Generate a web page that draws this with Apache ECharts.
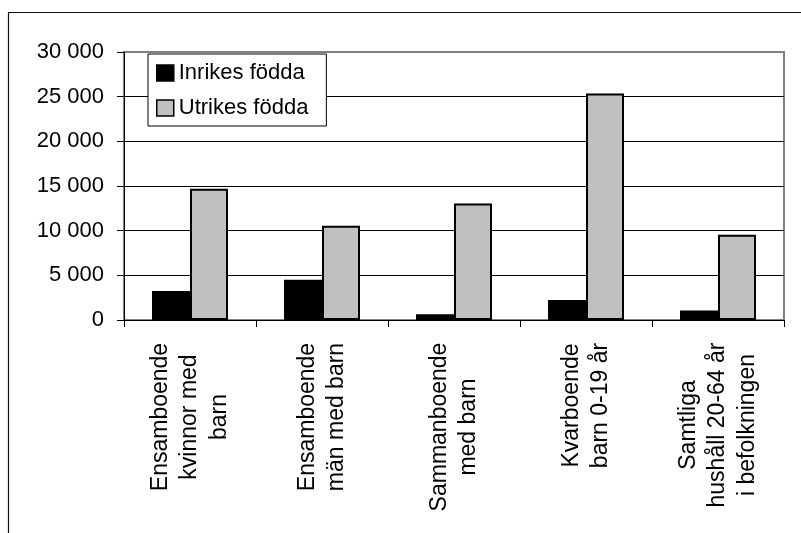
<!DOCTYPE html>
<html>
<head>
<meta charset="utf-8">
<script src="https://cdn.jsdelivr.net/npm/echarts@6/dist/echarts.min.js"></script>
<style>
html,body{margin:0;padding:0;background:#fff;}
#chart{width:801px;height:533px;}
</style>
</head>
<body>
<div id="chart"></div>
<script>
const categories = [
  'Ensamboende\nkvinnor med\nbarn',
  'Ensamboende\nmän med barn',
  'Sammanboende\nmed barn',
  'Kvarboende\nbarn 0-19 år',
  'Samtliga\nhushåll 20-64 år\ni befolkningen'
];
const seriesNames = ['Inrikes födda', 'Utrikes födda'];
const inrikes = [3250, 4500, 650, 2250, 1050];
const utrikes = [14700, 10550, 13050, 25350, 9550];
const yMin = 0;
const yMax = 30000;
const yStep = 5000;

const FONT = '"Liberation Sans", Arial, sans-serif';
const xFontSize = 23;
const xLineHeight = 29.5;

// measure longest line of each category label so lines can be centred
const cv = document.createElement('canvas').getContext('2d');
cv.font = xFontSize + 'px "Liberation Sans"';
const rich = {};
categories.forEach(function (c, i) {
  let w = 0;
  c.split('\n').forEach(function (l) { w = Math.max(w, cv.measureText(l).width); });
  rich['c' + i] = { width: Math.ceil(w) + 1, height: xLineHeight, align: 'center', fontSize: xFontSize, fontFamily: FONT, color: '#000', lineHeight: xLineHeight };
});

const chart = echarts.init(document.getElementById('chart'), null, { renderer: 'canvas' });
chart.setOption({
  animation: false,
  backgroundColor: '#fff',
  graphic: [{
    type: 'rect',
    shape: { x: 8.5, y: 12.5, width: 900, height: 700 },
    style: { fill: 'none', stroke: '#111', lineWidth: 1.2 },
    silent: true, z: -10
  }],
  grid: {
    left: 124, top: 52, right: 17, bottom: 213,
    show: true, borderColor: '#808080', borderWidth: 2, backgroundColor: '#fff'
  },
  legend: {
    orient: 'vertical',
    left: 148, top: 54,
    padding: [8, 18, 7, 8],
    itemWidth: 17, itemHeight: 16, itemGap: 13,
    icon: 'rect',
    backgroundColor: '#fff',
    borderColor: '#000', borderWidth: 1,
    textStyle: { fontSize: 22, fontFamily: FONT, color: '#000' },
    itemStyle: { borderColor: '#000', borderWidth: 1.5 },
    data: seriesNames,
    z: 10
  },
  xAxis: {
    type: 'category',
    data: categories,
    boundaryGap: true,
    axisLine: { show: true, lineStyle: { color: '#000', width: 1 } },
    axisTick: { show: true, length: 7, inside: false, interval: 0, alignWithLabel: false, lineStyle: { color: '#000' } },
    axisLabel: {
      interval: 0, rotate: 90, margin: 22,
      fontSize: xFontSize, fontFamily: FONT, color: '#000', lineHeight: xLineHeight,
      formatter: function (v, i) {
        return v.split('\n').map(function (l) { return '{c' + i + '|' + l + '}'; }).join('\n');
      },
      rich: rich
    },
    splitLine: { show: false }
  },
  yAxis: {
    type: 'value',
    min: yMin, max: yMax, interval: yStep,
    axisLine: { show: true, lineStyle: { color: '#000', width: 1 } },
    axisTick: { show: true, length: 7, inside: false, lineStyle: { color: '#000' } },
    axisLabel: {
      margin: 20, fontSize: 22, fontFamily: FONT, color: '#000',
      formatter: function (v) { return String(v).replace(/\B(?=(\d{3})+(?!\d))/g, ' '); }
    },
    splitLine: { show: true, showMaxLine: false, showMinLine: false, lineStyle: { color: '#000', width: 1 } }
  },
  series: [
    {
      name: seriesNames[0], type: 'bar', data: inrikes,
      barWidth: 38, barGap: '0%',
      itemStyle: { color: '#000000', borderColor: '#000', borderWidth: 2 }
    },
    {
      name: seriesNames[1], type: 'bar', data: utrikes,
      barWidth: 38, barGap: '0%',
      itemStyle: { color: '#c0c0c0', borderColor: '#000', borderWidth: 2 }
    }
  ]
});
</script>
</body>
</html>
